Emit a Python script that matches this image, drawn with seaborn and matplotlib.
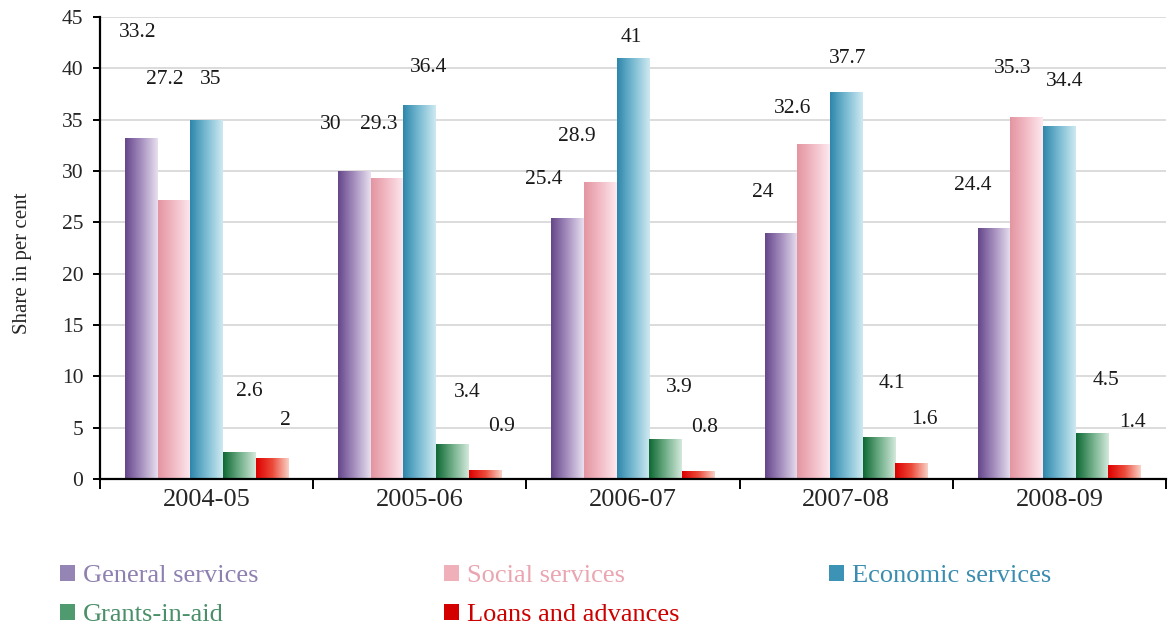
import numpy as np
import pandas as pd
import matplotlib
matplotlib.use("Agg")
import matplotlib.pyplot as plt
from matplotlib.colors import LinearSegmentedColormap
from matplotlib.patches import Patch
import seaborn as sns

# ---------------- data ----------------
years = ['2004-05', '2005-06', '2006-07', '2007-08', '2008-09']
series_names = ['General services', 'Social services', 'Economic services',
                'Grants-in-aid', 'Loans and advances']
general = [33.2, 30, 25.4, 24, 24.4]
social = [27.2, 29.3, 28.9, 32.6, 35.3]
economic = [35, 36.4, 41, 37.7, 34.4]
grants = [2.6, 3.4, 3.9, 4.1, 4.5]
loans = [2, 0.9, 0.8, 1.6, 1.4]
y_ticks = [0, 5, 10, 15, 20, 25, 30, 35, 40, 45]

# label placement (value-label heights in data units, horizontal nudge in px)
label_y = [
    [43.5, 34.5, 29.2, 27.9, 28.6],
    [38.9, 34.5, 33.4, 36.1, 40.0],
    [38.9, 40.1, 43.0, 41.0, 38.7],
    [8.5, 8.4, 8.9, 9.3, 9.6],
    [5.7, 5.1, 5.0, 5.8, 5.5],
]
label_dx = [
    [-4, -23.5, -24, -18, -21],
    [-9, -8, -24, -21, -14],
    [4.5, 9, -2, 1, 5],
    [10, 15, 14, 13, 14],
    [14, 17, 6, 13, 8],
]

# ---------------- styles ----------------
grad_stops = [
    ['#65468a', '#a690bf', '#e8e0f0'],
    ['#e395a1', '#f2bcc6', '#fde9ef'],
    ['#2e86ab', '#7bbcd3', '#cfe9f1'],
    ['#0d6833', '#6fae88', '#d4e9dc'],
    ['#dd0000', '#ec4a3a', '#f9d2c6'],
]
legend_sq = ['#9585b5', '#efb0ba', '#3d93b5', '#4f9a6e', '#d40000']
legend_txt = ['#8e80b0', '#eaa5b0', '#3a8db0', '#4a8f68', '#cc0000']

sns.set_style('white')
plt.rcParams['font.family'] = ['Liberation Serif', 'DejaVu Serif']

values = [general, social, economic, grants, loans]
df = pd.DataFrame({
    'year': np.repeat(years, len(series_names)),
    'series': series_names * len(years),
    'value': [values[s][y] for y in range(len(years)) for s in range(len(series_names))],
})

fig = plt.figure(figsize=(11.69, 6.25), dpi=100)
ax = fig.add_axes([100 / 1169, 1 - 479 / 625, 1066 / 1169, 462 / 625])

sns.barplot(data=df, x='year', y='value', hue='series', hue_order=series_names,
            order=years, palette=[g[0] for g in grad_stops], width=0.765,
            saturation=1, legend=False, ax=ax, zorder=2)

ax.set_ylim(0, 45)
ax.set_xlim(-0.5, len(years) - 0.5)

grad = np.linspace(0, 1, 256).reshape(1, -1)
for si, cont in enumerate(ax.containers):
    cmap = LinearSegmentedColormap.from_list(f'g{si}', grad_stops[si])
    for yi, bar in enumerate(cont):
        x0, w, h = bar.get_x(), bar.get_width(), bar.get_height()
        bar.set_facecolor('none')
        bar.set_edgecolor('none')
        im = ax.imshow(grad, cmap=cmap, aspect='auto', extent=[x0, x0 + w, 0, h],
                       zorder=2, interpolation='bilinear')
        im.set_clip_path(bar)
        ax.annotate(f'{values[si][yi]:g}',
                    xy=(x0 + w / 2, label_y[si][yi]),
                    xytext=(label_dx[si][yi] * 0.72, 0), textcoords='offset points',
                    ha='center', va='center', fontsize=15.5, color='#1a1a1a', zorder=4)

ax.set_ylim(0, 45)
ax.set_xlim(-0.5, len(years) - 0.5)

# grid & axes
ax.set_yticks(y_ticks)
ax.yaxis.grid(True, color='#d9d9d9', linewidth=1.3, zorder=0)
ax.xaxis.grid(False)
ax.set_axisbelow(True)
for side in ['top', 'right']:
    ax.spines[side].set_visible(False)
for side in ['left', 'bottom']:
    ax.spines[side].set_color('black')
    ax.spines[side].set_linewidth(1.6)
    ax.spines[side].set_zorder(5)

ax.tick_params(axis='y', direction='out', length=5, width=1.4, color='black',
               labelsize=15.5, pad=7, left=True)
ax.set_xticks(range(len(years)))
ax.set_xticklabels(years)
ax.tick_params(axis='x', which='major', length=0, labelsize=19, pad=7)
ax.set_xticks(np.arange(-0.5, len(years)), minor=True)
ax.tick_params(axis='x', which='minor', direction='out', length=7, width=1.4,
               color='black', bottom=True)
ax.set_xlabel('')
ax.set_ylabel('Share in per cent', fontsize=15)
ax.yaxis.set_label_coords(-0.064, 0.466)

# legend in three columns
cols = [[0, 3], [1, 4], [2]]
col_x = [60 / 1169, 444 / 1169, 829 / 1169]
for ci, idxs in enumerate(cols):
    handles = [Patch(facecolor=legend_sq[i], edgecolor='none') for i in idxs]
    leg = fig.legend(handles, [series_names[i] for i in idxs], loc='upper left',
                     bbox_to_anchor=(col_x[ci], 1 - 565 / 625), frameon=False,
                     fontsize=19, handlelength=0.57, handleheight=0.57,
                     handletextpad=0.3, labelspacing=0.62, borderpad=0,
                     borderaxespad=0)
    for t, i in zip(leg.get_texts(), idxs):
        t.set_color(legend_txt[i])

fig.savefig('out.png', dpi=100, facecolor='white')
